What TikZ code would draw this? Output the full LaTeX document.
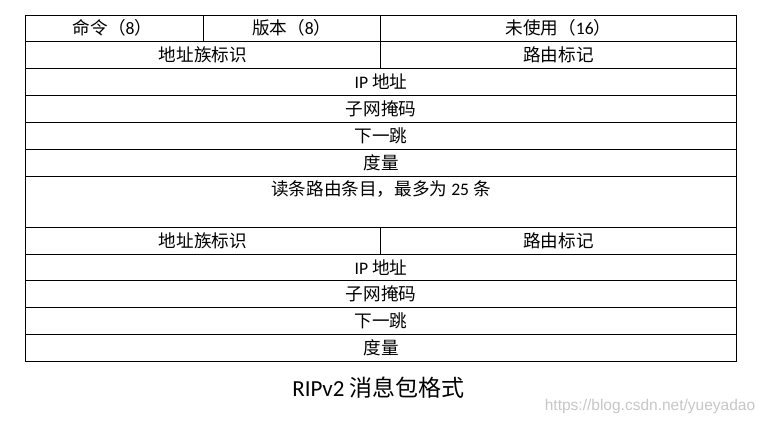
\documentclass[tikz,border=0pt]{standalone}
\usepackage{fontspec}
\setmainfont{Carlito}
\newfontfamily\cjk{Noto Sans CJK SC}
\newfontfamily\wmfont{Liberation Sans}
\begin{document}
\begin{tikzpicture}[x=1pt,y=-1pt,
  gridline/.style={line width=0.9pt, black},
  cell/.style={font=\fontsize{17.6}{17.6}\selectfont, inner sep=0pt, anchor=center},
  caption/.style={font=\fontsize{23}{23}\selectfont, inner sep=0pt, anchor=center},
  watermark/.style={font=\wmfont\fontsize{15.5}{15.5}\selectfont, text=black!22, inner sep=0pt, anchor=center}]
\useasboundingbox (0,0) rectangle (767,424);
\fill[white] (0,0) rectangle (767,424);
% grid
\draw[gridline] (25.5,15) rectangle (736.5,361.3);
\foreach \yy in {41.3,68.3,95.3,122.3,149.3,176.3,227.3,254.3,280.3,307.3,334.3}
  \draw[gridline] (25.5,\yy) -- (736.5,\yy);
\draw[gridline] (203.3,15) -- (203.3,41.3);
\draw[gridline] (380.3,15) -- (380.3,68.3);
\draw[gridline] (380.3,227.3) -- (380.3,254.3);
% texts
\node[cell] (cmd) at (112.5,28) {{\cjk 命令（}8{\cjk ）}};
\node[cell] (ver) at (291.8,28) {{\cjk 版本（}8{\cjk ）}};
\node[cell] (unused) at (558.4,28) {{\cjk 未使用（}16{\cjk ）}};
\node[cell] (afi1) at (202.9,55) {\cjk 地址族标识};
\node[cell] (tag1) at (558.4,55) {\cjk 路由标记};
\node[cell] (ip1) at (381,82) {IP {\cjk 地址}};
\node[cell] (mask1) at (381,109) {\cjk 子网掩码};
\node[cell] (hop1) at (381,136) {\cjk 下一跳};
\node[cell] (met1) at (381,162.5) {\cjk 度量};
\node[cell] (more) at (381,189) {{\cjk 读条路由条目，最多为 }25{\cjk \ 条}};
\node[cell] (afi2) at (202.9,241) {\cjk 地址族标识};
\node[cell] (tag2) at (558.4,241) {\cjk 路由标记};
\node[cell] (ip2) at (381,267.5) {IP {\cjk 地址}};
\node[cell] (mask2) at (381,294) {\cjk 子网掩码};
\node[cell] (hop2) at (381,321) {\cjk 下一跳};
\node[cell] (met2) at (381,348) {\cjk 度量};
\node[caption] (title) at (378.5,388) {RIPv2 {\cjk 消息包格式}};
\node[watermark] (wm) at (650,406) {https://blog.csdn.net/yueyadao};
\end{tikzpicture}
\end{document}
